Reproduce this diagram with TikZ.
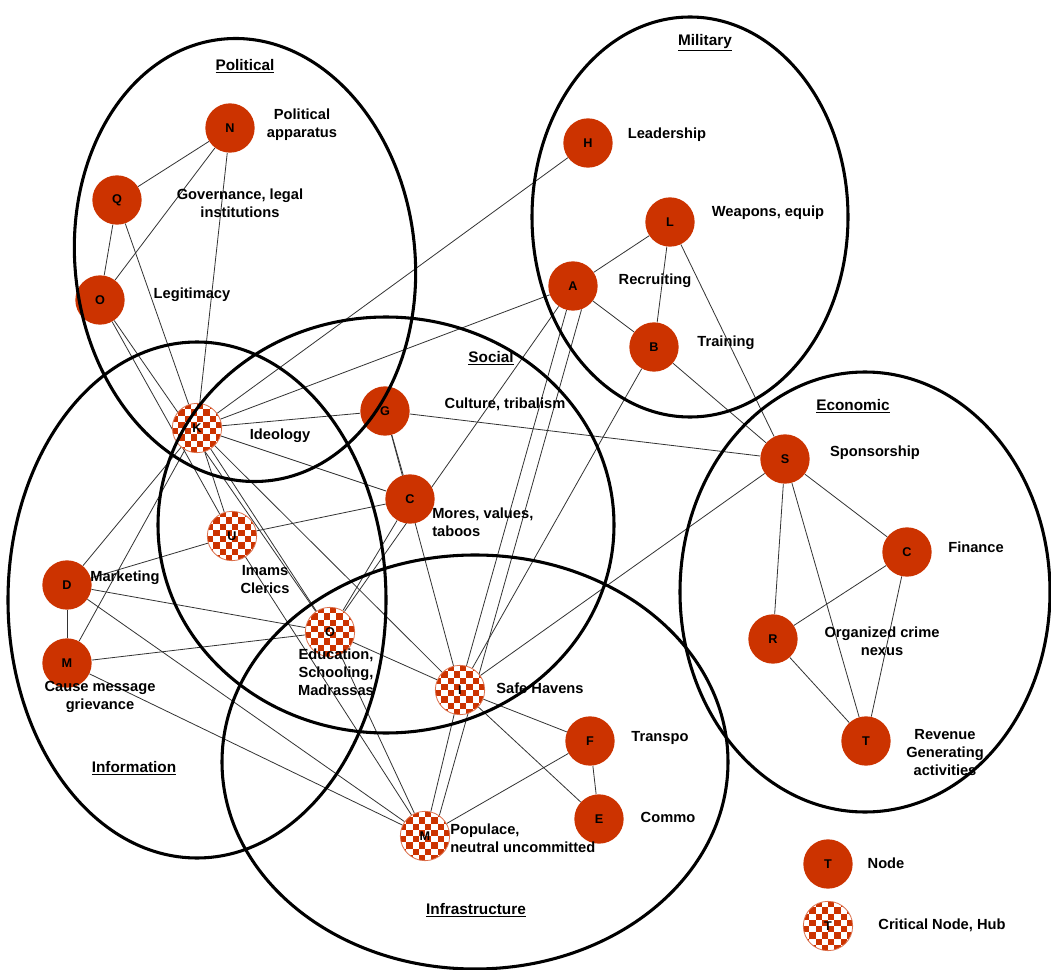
\documentclass[tikz,border=0pt]{standalone}
\usepackage{fontspec}
\setmainfont{Liberation Sans}
\pgfdeclarelayer{background}
\pgfdeclarelayer{foreground}
\pgfsetlayers{background,main,foreground}
\definecolor{nodered}{RGB}{204,51,0}
\newcommand\checkerfill[2]{%
  \begin{scope}
    \clip (#1,#2) circle[radius=24.5];
    \fill[white] (#1-25,#2-25) rectangle ++(50,50);
    \foreach \i in {0,...,7}{\foreach \j in {0,...,7}{%
      \pgfmathtruncatemacro\chkpar{mod(\i+\j,2)}%
      \ifnum\chkpar=0 \fill[nodered] (#1-25+6.25*\i,#2-25+6.25*\j) rectangle ++(6.25,6.25);\fi}}
  \end{scope}}
\tikzset{
  nd/.style={circle, fill=nodered, minimum size=37pt, inner sep=0pt, font=\bfseries\fontsize{9.5}{10}\selectfont},
  hub/.style={circle, draw=nodered!70, line width=0.6pt, minimum size=37pt, inner sep=0pt, font=\bfseries\fontsize{9.5}{10}\selectfont},
  lbl/.style={font=\bfseries\fontsize{11}{13.5}\selectfont, align=center, inner sep=0pt},
  ttl/.style={font=\bfseries\fontsize{11.5}{13.5}\selectfont, inner sep=0pt},
  region/.style={line width=2.3pt},
  link/.style={line width=0.6pt, black!80}
}
\begin{document}
\begin{tikzpicture}[x=0.75pt,y=-0.75pt]
\useasboundingbox (0,0) rectangle (1051,970);
\begin{pgfonlayer}{background}
\fill[white] (0,0) rectangle (1051,970);
\end{pgfonlayer}
% hub fills
\checkerfill{197}{428}
\checkerfill{232}{536}
\checkerfill{330}{632}
\checkerfill{460}{690}
\checkerfill{425}{836}
\checkerfill{828}{926}
% nodes
\node[nd] (N) at (230,128) {N};
\node[nd] (Q) at (117,200) {Q};
\node[nd] (Ol) at (100,300) {O};
\node[nd] (H) at (588,143) {H};
\node[nd] (L) at (670,222) {L};
\node[nd] (A) at (573,286) {A};
\node[nd] (B) at (654,347) {B};
\node[hub] (K) at (197,428) {K};
\node[nd] (G) at (385,411) {G};
\node[nd] (Cm) at (410,499) {C};
\node[hub] (U) at (232,536) {U};
\node[nd] (D) at (67,585) {D};
\node[nd] (Mc) at (67,663) {M};
\node[hub] (Oe) at (330,632) {O};
\node[hub] (I) at (460,690) {I};
\node[nd] (F) at (590,741) {F};
\node[nd] (E) at (599,819) {E};
\node[hub] (Mp) at (425,836) {M};
\node[nd] (S) at (785,459) {S};
\node[nd] (Cf) at (907,552) {C};
\node[nd] (R) at (773,639) {R};
\node[nd] (T) at (866,741) {T};
\node[nd] (T1) at (828,864) {T};
\node[hub] (T2) at (828,926) {T};
% links
\begin{pgfonlayer}{background}
\foreach \a/\b in {N/Q, N/Ol, N/K, Q/Ol, Q/K, Ol/U, Ol/Oe,
  A/L, L/B, A/B, L/S, B/S, H/K, A/K, A/Oe, B/I,
  K/G, G/Cm, G/S, G/I, K/Cm, K/U, K/D, K/Mc, K/Oe, K/I, U/Cm, U/D, U/Mp, Cm/Oe,
  D/Mc, D/Oe, D/Mp, Mc/Oe, Mc/Mp,
  Oe/I, Oe/Mp, I/F, I/E, I/Mp, F/E, F/Mp, S/I,
  S/R, S/T, S/Cf, Cf/R, Cf/T, R/T}
  \draw[link] (\a) -- (\b);
\draw[link] (A.-105) -- (I.75);
\draw[link] (A.-70) -- (Mp.55);
\end{pgfonlayer}
% regions
\begin{pgfonlayer}{foreground}
\draw[region, rotate around={6:(245,260)}] (245,260) ellipse [x radius=170, y radius=222];
\draw[region] (690,217) ellipse [x radius=158, y radius=200];
\draw[region] (386,525) ellipse [x radius=228, y radius=208];
\draw[region] (197,600) ellipse [x radius=189, y radius=258];
\draw[region] (475,762) ellipse [x radius=253, y radius=207];
\draw[region] (865,592) ellipse [x radius=185, y radius=220];
\end{pgfonlayer}
% labels
\node[ttl] (tPol) at (245,66) {\underline{Political}};
\node[lbl] (lN) at (302,125) {Political\\apparatus};
\node[lbl] (lQ) at (240,203) {Governance, legal\\institutions};
\node[lbl] (lOl) at (192,295) {Legitimacy};
\node[ttl] (tMil) at (705,43) {\underline{Military}};
\node[lbl] (lH) at (667,135) {Leadership};
\node[lbl] (lL) at (768,213) {Weapons, equip};
\node[lbl] (lA) at (655,281) {Recruiting};
\node[lbl] (lB) at (726,343) {Training};
\node[ttl] (tSoc) at (491,358) {\underline{Social}};
\node[lbl] (lG) at (505,404) {Culture, tribalism};
\node[lbl] (lK) at (280,436) {Ideology};
\node[lbl, anchor=west, align=left] (lCm) at (432,522) {Mores, values,\\taboos};
\node[lbl] (lU) at (265,580) {Imams\\Clerics};
\node[lbl] (lD) at (125,578) {Marketing};
\node[lbl] (lMc) at (100,697) {Cause message\\grievance};
\node[ttl] (tInf) at (134,768) {\underline{Information}};
\node[lbl] (lOe) at (336,672) {Education,\\Schooling,\\Madrassas};
\node[lbl] (lI) at (540,688) {Safe Havens};
\node[lbl] (lF) at (660,738) {Transpo};
\node[lbl] (lE) at (668,817) {Commo};
\node[lbl, anchor=west, align=left] (lMp) at (450,838) {Populace,\\neutral uncommitted};
\node[ttl] (tInfra) at (476,910) {\underline{Infrastructure}};
\node[ttl] (tEco) at (853,406) {\underline{Economic}};
\node[lbl] (lS) at (875,453) {Sponsorship};
\node[lbl] (lCf) at (976,547) {Finance};
\node[lbl] (lR) at (882,641) {Organized crime\\nexus};
\node[lbl] (lT) at (945,753) {Revenue\\Generating\\activities};
\node[lbl] (lT1) at (886,863) {Node};
\node[lbl] (lT2) at (942,925) {Critical Node, Hub};
\end{tikzpicture}
\end{document}
